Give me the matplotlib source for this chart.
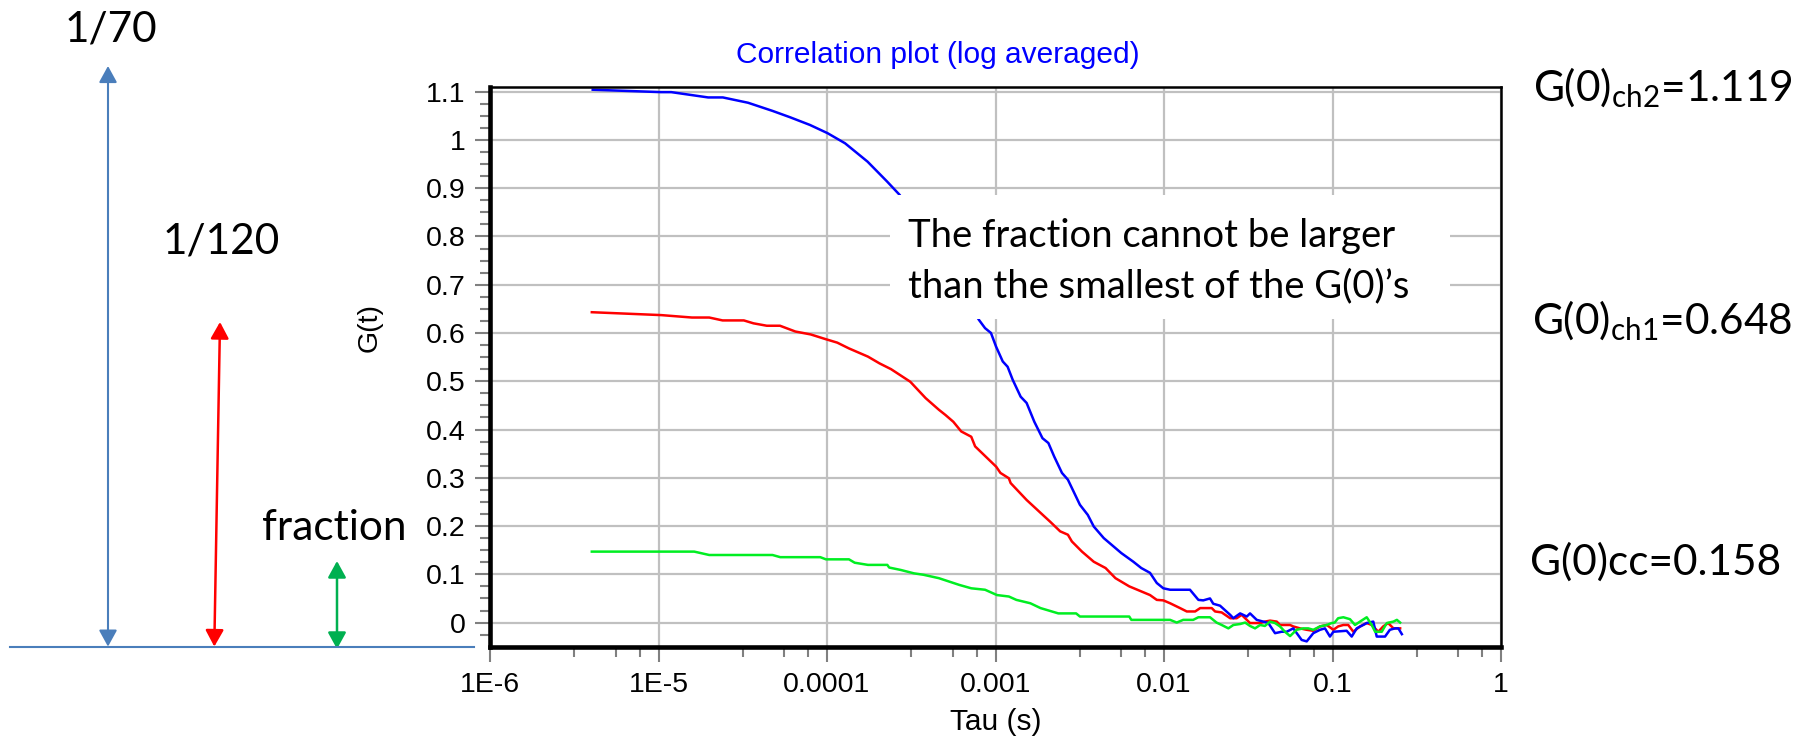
import matplotlib
matplotlib.use('Agg')
import matplotlib.pyplot as plt
from matplotlib.patches import Rectangle, FancyArrowPatch
from matplotlib.lines import Line2D
from matplotlib.ticker import FixedLocator, NullFormatter

# ---------------- data ----------------
tau_ch2 = [4.07e-6, 1.035e-5, 1.19e-5, 1.97e-5, 2.41e-5, 3.40e-5, 4.76e-5, 6.03e-5, 7.92e-5,
           1.007e-4, 1.28e-4, 1.74e-4, 2.27e-4, 2.70e-4, 7.98e-4, 8.67e-4, 9.40e-4, 1.007e-3,
           1.104e-3, 1.18e-3, 1.265e-3, 1.41e-3, 1.53e-3, 1.70e-3, 1.90e-3, 2.06e-3, 2.23e-3,
           2.48e-3, 2.69e-3, 3.17e-3, 3.53e-3, 3.83e-3, 4.39e-3, 5.58e-3, 6.58e-3, 7.33e-3,
           8.26e-3, 9.06e-3, 9.91e-3, 1.087e-2, 1.426e-2, 1.60e-2, 1.71e-2, 1.875e-2, 1.96e-2,
           2.15e-2, 2.47e-2, 2.58e-2, 2.83e-2, 3.10e-2, 3.24e-2, 3.55e-2, 3.88e-2, 4.16e-2,
           4.56e-2, 4.99e-2, 5.35e-2, 5.85e-2, 6.56e-2, 7.03e-2, 7.69e-2, 8.43e-2, 9.02e-2,
           9.66e-2, 1.012e-1, 1.213e-1, 1.30e-1, 1.393e-1, 1.596e-1, 1.746e-1, 1.83e-1,
           2.05e-1, 2.19e-1, 2.35e-1, 2.46e-1, 2.58e-1]
g_ch2 = [1.104, 1.099, 1.099, 1.088, 1.088, 1.077, 1.060, 1.047, 1.031,
         1.014, 0.993, 0.955, 0.914, 0.886, 0.627, 0.610, 0.600, 0.572,
         0.541, 0.530, 0.503, 0.468, 0.455, 0.416, 0.382, 0.372, 0.344,
         0.310, 0.296, 0.244, 0.223, 0.199, 0.175, 0.144, 0.126, 0.113,
         0.103, 0.082, 0.071, 0.068, 0.068, 0.047, 0.046, 0.050, 0.039,
         0.035, 0.016, 0.009, 0.019, 0.0125, 0.019, 0.0056, 0.002, -0.001,
         -0.022, -0.019, -0.019, -0.012, -0.036, -0.039, -0.022, -0.015, -0.012,
         -0.029, -0.019, -0.017, -0.029, -0.012, -0.001, 0.002, -0.029,
         -0.029, -0.015, -0.012, -0.012, -0.024]

tau_ch1 = [4.02e-6, 1.04e-5, 1.58e-5, 2.00e-5, 2.40e-5, 3.21e-5, 3.66e-5, 4.39e-5, 5.26e-5,
           6.49e-5, 8.00e-5, 9.86e-5, 1.15e-4, 1.35e-4, 1.75e-4, 2.05e-4, 2.40e-4, 3.12e-4,
           3.85e-4, 4.61e-4, 5.05e-4, 5.62e-4, 6.26e-4, 7.18e-4, 7.57e-4, 1.009e-3, 1.07e-3,
           1.20e-3, 1.23e-3, 1.53e-3, 1.95e-3, 2.11e-3, 2.42e-3, 2.69e-3, 2.84e-3, 3.26e-3,
           3.83e-3, 4.50e-3, 5.15e-3, 6.22e-3, 8.26e-3, 9.06e-3, 9.91e-3, 1.087e-2, 1.245e-2,
           1.365e-2, 1.53e-2, 1.64e-2, 1.92e-2, 2.01e-2, 2.20e-2, 2.47e-2, 2.70e-2, 2.89e-2,
           3.10e-2, 3.24e-2, 3.72e-2, 3.97e-2, 4.26e-2, 4.67e-2, 4.88e-2, 5.60e-2, 5.85e-2,
           6.41e-2, 7.03e-2, 7.69e-2, 8.43e-2, 9.25e-2, 1.012e-1, 1.08e-1, 1.16e-1, 1.24e-1,
           1.33e-1, 1.456e-1, 1.596e-1, 1.71e-1, 1.87e-1, 2.00e-1, 2.14e-1, 2.30e-1, 2.52e-1]
g_ch1 = [0.643, 0.637, 0.632, 0.632, 0.626, 0.626, 0.620, 0.615, 0.615,
         0.603, 0.597, 0.587, 0.580, 0.568, 0.551, 0.537, 0.525, 0.499,
         0.465, 0.441, 0.430, 0.416, 0.396, 0.385, 0.365, 0.323, 0.310,
         0.299, 0.289, 0.254, 0.220, 0.209, 0.189, 0.182, 0.168, 0.147,
         0.126, 0.113, 0.092, 0.075, 0.057, 0.047, 0.046, 0.040, 0.030,
         0.023, 0.023, 0.030, 0.030, 0.023, 0.021, 0.009, 0.009, 0.016,
         0.0056, -0.001, -0.001, 0.002, 0.004, 0.002, -0.005, -0.005, -0.008,
         -0.012, -0.015, -0.017, -0.008, -0.005, -0.015, -0.008, -0.005, -0.005,
         -0.019, -0.008, -0.001, -0.005, -0.019, -0.008, -0.001, -0.012, -0.012]

tau_cc = [4.02e-6, 1.63e-5, 2.00e-5, 4.75e-5, 5.28e-5, 9.12e-5, 9.86e-5, 1.35e-4, 1.46e-4,
          1.75e-4, 2.28e-4, 2.34e-4, 2.74e-4, 3.28e-4, 3.74e-4, 4.61e-4, 6.10e-4, 7.18e-4,
          8.67e-4, 1.02e-3, 1.20e-3, 1.33e-3, 1.61e-3, 1.85e-3, 2.36e-3, 3.01e-3, 3.17e-3,
          6.22e-3, 6.40e-3, 8.26e-3, 1.087e-2, 1.19e-2, 1.30e-2, 1.49e-2, 1.60e-2, 1.875e-2,
          2.05e-2, 2.20e-2, 2.41e-2, 2.58e-2, 2.83e-2, 3.03e-2, 3.24e-2, 3.47e-2, 3.72e-2,
          3.97e-2, 4.26e-2, 4.56e-2, 4.88e-2, 5.22e-2, 5.60e-2, 6.12e-2, 6.71e-2, 7.18e-2,
          7.69e-2, 8.43e-2, 9.25e-2, 9.89e-2, 1.03e-1, 1.08e-1, 1.16e-1, 1.27e-1, 1.36e-1,
          1.456e-1, 1.596e-1, 1.71e-1, 1.79e-1, 1.96e-1, 2.10e-1, 2.30e-1, 2.41e-1, 2.52e-1]
g_cc = [0.147, 0.147, 0.140, 0.140, 0.1355, 0.1355, 0.131, 0.131, 0.124,
        0.1195, 0.1195, 0.114, 0.109, 0.102, 0.099, 0.092, 0.078, 0.071,
        0.068, 0.057, 0.054, 0.047, 0.040, 0.030, 0.019, 0.019, 0.0125,
        0.0125, 0.0056, 0.0056, 0.0056, 0.0, 0.0056, 0.0056, 0.011, 0.011,
        0.0, -0.005, -0.012, -0.005, -0.003, 0.0, -0.007, -0.012, -0.005,
        -0.007, 0.002, -0.001, -0.008, -0.019, -0.028, -0.015, -0.012, -0.012,
        -0.015, -0.008, -0.005, -0.001, 0.0, 0.009, 0.011, 0.007, -0.005,
        0.002, 0.011, -0.005, -0.019, -0.019, -0.001, 0.002, 0.0056, 0.0]

x_ticks = [1e-6, 1e-5, 1e-4, 1e-3, 1e-2, 1e-1, 1.0]
x_tick_labels = ['1E-6', '1E-5', '0.0001', '0.001', '0.01', '0.1', '1']
y_ticks = [0.0, 0.1, 0.2, 0.3, 0.4, 0.5, 0.6, 0.7, 0.8, 0.9, 1.0, 1.1]
y_tick_labels = ['0', '0.1', '0.2', '0.3', '0.4', '0.5', '0.6', '0.7', '0.8', '0.9', '1', '1.1']

title = 'Correlation plot (log averaged)'
x_label = 'Tau (s)'
y_label = 'G(t)'
note_lines = ['The fraction cannot be larger', 'than the smallest of the G(0)\u2019s']
g0_labels = ['G(0)$_{\\mathrm{ch2}}$=1.119', 'G(0)$_{\\mathrm{ch1}}$=0.648', 'G(0)cc=0.158']
left_labels = ['1/70', '1/120', 'fraction']

# ---------------- styling ----------------
plt.rcParams['mathtext.fontset'] = 'custom'
plt.rcParams['mathtext.rm'] = 'Lato'
plt.rcParams['mathtext.it'] = 'Lato:italic'
plt.rcParams['mathtext.bf'] = 'Lato:bold'

W, H = 1815, 739
fig = plt.figure(figsize=(W / 100, H / 100), dpi=100)
fig.patch.set_facecolor('white')


def fx(px):
    return px / W


def fy(py):
    return 1 - py / H


chart_font = 'Liberation Sans'
slide_font = 'Lato'

ax = fig.add_axes([fx(490), fy(646.7), (1501 - 490) / W, (646.7 - 87.3) / H])
ax.set_xscale('log')
ax.set_xlim(1e-6, 1.0)
ax.set_ylim(-0.05, 1.109)

ax.plot(tau_ch1, g_ch1, color='#ff0000', lw=1.8, zorder=2)
ax.plot(tau_ch2, g_ch2, color='#0000ff', lw=1.8, zorder=2.1)
ax.plot(tau_cc, g_cc, color='#00ee22', lw=1.8, zorder=2.2)

ax.xaxis.set_major_locator(FixedLocator(x_ticks))
ax.set_xticklabels(x_tick_labels, family=chart_font, fontsize=20.5)
minor_x = []
for d in x_ticks[:-1]:
    minor_x += [d * 3.16, d * 5.56, d * 7.76]
ax.xaxis.set_minor_locator(FixedLocator(minor_x))
ax.xaxis.set_minor_formatter(NullFormatter())

ax.yaxis.set_major_locator(FixedLocator(y_ticks))
ax.set_yticklabels(y_tick_labels, family=chart_font, fontsize=20.5)
minor_y = [i * 0.025 for i in range(-1, 45) if i % 4 != 0]
ax.yaxis.set_minor_locator(FixedLocator(minor_y))
ax.yaxis.set_minor_formatter(NullFormatter())

ax.tick_params(which='major', direction='out', length=11, width=1.5, color='#808080',
               labelcolor='black')
ax.tick_params(axis='x', which='major', pad=7)
ax.tick_params(axis='y', which='major', pad=6.5)
ax.tick_params(which='minor', direction='out', length=7, width=1.5, color='#808080')

ax.grid(which='major', color='#c0c0c0', lw=1.6)
ax.set_axisbelow(True)

for s in ['left', 'bottom']:
    ax.spines[s].set_linewidth(3.3)
for s in ['top', 'right']:
    ax.spines[s].set_linewidth(1.8)
for s in ax.spines.values():
    s.set_color('black')

# white box covering part of the plot behind the note
ax.add_patch(Rectangle((0.3956, 0.586), 0.9496 - 0.3956, 0.8076 - 0.586,
                       transform=ax.transAxes, facecolor='white', edgecolor='none', zorder=3))

# chart texts
fig.text(fx(937.5), fy(63.3), title, ha='center', va='baseline', color='#0000ff',
         family=chart_font, fontsize=21.5)
fig.text(fx(995.5), fy(722.5), x_label, ha='center', va='center',
         family=chart_font, fontsize=21.5)
fig.text(fx(370), fy(327.5), y_label, ha='center', va='center', rotation=90,
         family=chart_font, fontsize=20.5)

# note
fig.text(fx(908), fy(247), note_lines[0], ha='left', va='baseline', family=slide_font, fontsize=27.5)
fig.text(fx(908), fy(297), note_lines[1], ha='left', va='baseline', family=slide_font, fontsize=27.5)

# G(0) labels
for lab, px, py in zip(g0_labels, [1533, 1532, 1530], [101, 334, 575]):
    fig.text(fx(px), fy(py), lab, ha='left', va='baseline', family=slide_font, fontsize=30.5)

# left annotation
for lab, px, py in zip(left_labels, [65, 163, 262], [42, 254, 540]):
    fig.text(fx(px), fy(py), lab, ha='left', va='baseline', family=slide_font, fontsize=30.5)

fig.add_artist(Line2D([fx(10), fx(474)], [fy(646.5), fy(646.5)], transform=fig.transFigure,
                      color='#4a7ebb', lw=1.5))


def arrow(x0, y0, x1, y1, color, lw):
    a = FancyArrowPatch((fx(x0), fy(y0)), (fx(x1), fy(y1)), transform=fig.transFigure,
                        arrowstyle='<|-|>,head_length=10,head_width=5.5', mutation_scale=1,
                        color=color, lw=lw, shrinkA=0, shrinkB=0)
    fig.add_artist(a)


arrow(108, 646.6, 108, 66, '#4a7ebb', 1.5)
arrow(214.3, 646.6, 220, 322, '#ff0000', 1.8)
arrow(337, 649, 337, 561, '#00b050', 1.8)

fig.savefig('out.png', dpi=100, facecolor='white')
